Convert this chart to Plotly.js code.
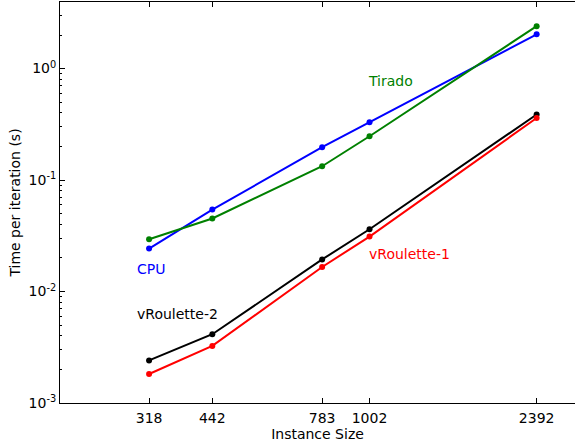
<!DOCTYPE html>
<html>
<head>
<meta charset="utf-8">
<script src="https://cdn.plot.ly/plotly-3.0.1.min.js"></script>
<style>html,body{margin:0;padding:0;background:#fff;}#chart{width:575px;height:446px;}</style>
</head>
<body>
<div id="chart"></div>
<script>
const instanceSizes = [318, 442, 783, 1002, 2392];
const cpuTimes = [0.0243, 0.0543, 0.197, 0.330, 2.03];
const tiradoTimes = [0.0294, 0.0452, 0.133, 0.247, 2.40];
const vRoulette2Times = [0.00241, 0.00414, 0.0194, 0.0362, 0.387];
const vRoulette1Times = [0.00182, 0.00325, 0.0166, 0.0311, 0.360];
const seriesNames = ['CPU', 'Tirado', 'vRoulette-2', 'vRoulette-1'];
const seriesColors = ['#0000ff', '#008000', '#000000', '#ff0000'];
const yTickVals = [0.001, 0.01, 0.1, 1];
const yTickText = ['10<sup>-3</sup>', '10<sup>-2</sup>', '10<sup>-1</sup>', '10<sup>0</sup>'];
const xTickText = ['318', '442', '783', '1002', '2392'];
// label anchor positions (data units)
const labelX = [321, 1115, 295, 988];
const labelY = [0.0159, 0.77, 0.00625, 0.0216];
const labelAnchor = ['center', 'center', 'left', 'left'];

const minorY = [];
for (let e = -3; e <= 0; e++) for (let m = 2; m <= 9; m++) minorY.push(m * Math.pow(10, e));

const allSeries = [cpuTimes, tiradoTimes, vRoulette2Times, vRoulette1Times];
const traces = allSeries.map((ys, i) => ({
  x: instanceSizes, y: ys, type: 'scatter', mode: 'lines+markers', name: seriesNames[i],
  line: {color: seriesColors[i], width: 2}, marker: {color: seriesColors[i], size: 6},
  cliponaxis: false
}));

const tickFont = {family: 'DejaVu Sans', size: 14, color: '#000'};
const titleFont = {family: 'DejaVu Sans', size: 14, color: '#000'};

const layout = {
  width: 575, height: 446,
  margin: {l: 60, r: 0, t: 2, b: 43},
  paper_bgcolor: '#fff', plot_bgcolor: '#fff',
  showlegend: false,
  font: tickFont,
  xaxis: {
    type: 'log', range: [2.301, 3.4655],
    tickvals: instanceSizes, ticktext: xTickText,
    ticks: 'inside', ticklen: 5, tickcolor: '#000', tickwidth: 1,
    ticklabelstandoff: 2,
    showline: true, linecolor: '#000', linewidth: 1, mirror: 'allticks',
    showgrid: false, zeroline: false,
    tickfont: tickFont,
    title: {text: 'Instance Size', font: titleFont, standoff: 4}
  },
  yaxis: {
    type: 'log', range: [-3, 0.597],
    tickvals: yTickVals, ticktext: yTickText,
    ticks: 'inside', ticklen: 5, tickcolor: '#000', tickwidth: 1,
    showline: true, linecolor: '#000', linewidth: 1, mirror: false,
    showgrid: false, zeroline: false,
    minor: {tickvals: minorY, ticks: 'inside', ticklen: 2, tickcolor: '#000', showgrid: false},
    tickfont: tickFont,
    title: {text: 'Time per iteration (s)', font: titleFont, standoff: 4}
  },
  annotations: seriesNames.map((name, i) => ({
    x: Math.log10(labelX[i]), y: Math.log10(labelY[i]), xref: 'x', yref: 'y',
    text: name, showarrow: false, xanchor: labelAnchor[i], yanchor: 'middle',
    font: {family: 'DejaVu Sans', size: 14, color: seriesColors[i]}
  }))
};

Plotly.newPlot('chart', traces, layout, {displayModeBar: false, staticPlot: true});
</script>
</body>
</html>
